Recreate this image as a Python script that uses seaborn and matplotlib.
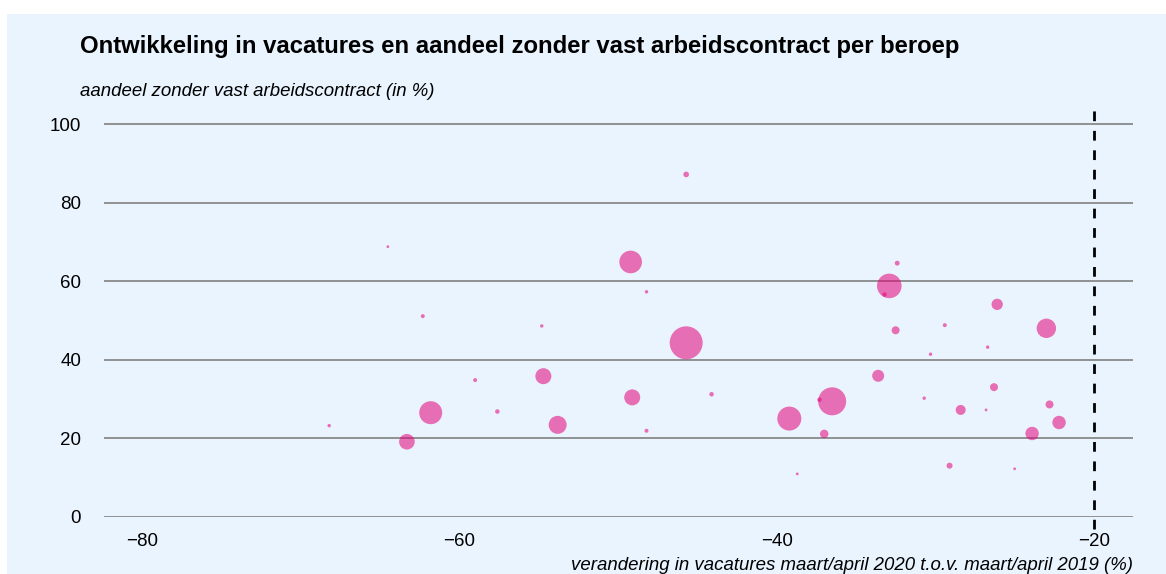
import pandas as pd
import matplotlib.pyplot as plt
import seaborn as sns
from matplotlib.patches import Rectangle

# =================== DATA ===================

# verandering in vacatures (%) per beroep
vacature_verandering = [
    -64.5, -62.3, -54.8, -59.0, -54.7, -61.8, -57.6, -53.8, -68.2, -63.3,
    -45.7, -49.2, -48.2, -45.7, -49.1, -44.1, -48.2, -39.2, -36.5, -37.3,
    -37.0, -32.4, -32.9, -33.2, -26.1, -32.5, -29.4, -23.0, -26.7, -30.3,
    -33.6, -26.3, -30.7, -22.8, -28.4, -26.8, -22.2, -23.9, -29.1, -25.0,
    -38.7,
]

# aandeel zonder vast arbeidscontract (%)
aandeel_flex = [
    68.8, 51.1, 48.6, 34.8, 35.8, 26.5, 26.8, 23.4, 23.2, 19.1,
    87.2, 64.9, 57.3, 44.3, 30.4, 31.2, 21.9, 25.0, 29.4, 29.8,
    21.1, 64.6, 58.8, 56.6, 54.1, 47.5, 48.8, 48.0, 43.2, 41.4,
    35.9, 33.0, 30.2, 28.6, 27.2, 27.2, 24.0, 21.2, 13.0, 12.2,
    10.9,
]

# omvang beroep (werkzame personen x 1000, geschat uit bolgrootte)
omvang = [
    2, 4, 3, 4, 64, 132, 5, 81, 3, 61,
    8, 128, 3, 272, 64, 5, 4, 144, 196, 5,
    18, 6, 151, 5, 32, 16, 4, 94, 3, 3,
    36, 16, 3, 16, 25, 2, 45, 45, 9, 2,
    2,
]

TITLE = 'Ontwikkeling in vacatures en aandeel zonder vast arbeidscontract per beroep'
YLABEL = 'aandeel zonder vast arbeidscontract (in %)'
XLABEL = 'verandering in vacatures maart/april 2020 t.o.v. maart/april 2019 (%)'

BG = '#EAF4FE'
PINK = '#E2007A'

# =================== PLOT ===================

df = pd.DataFrame({'x': vacature_verandering, 'y': aandeel_flex, 'omvang': omvang})

sns.set_style('white')
plt.rcParams['font.family'] = ['Liberation Sans', 'DejaVu Sans']
plt.rcParams['text.color'] = 'black'
plt.rcParams['xtick.color'] = 'black'
plt.rcParams['ytick.color'] = 'black'

fig = plt.figure(figsize=(11.66, 5.74), dpi=100, facecolor='white')
fig.patches.append(Rectangle((7 / 1166, 0), 1, 1 - 14 / 574, transform=fig.transFigure,
                             facecolor=BG, edgecolor='none', zorder=-10))
ax = fig.add_axes([104 / 1166, 1 - 516.7 / 574, (1133 - 104) / 1166, (516.7 - 108.5) / 574])
ax.set_facecolor('none')

max_s = (2 * 16.5 * 0.72) ** 2
sns.scatterplot(data=df, x='x', y='y', size='omvang', sizes=(0, max_s),
                size_norm=(0, max(omvang)), color=PINK, alpha=0.55,
                edgecolor='none', legend=False, ax=ax, zorder=3)

ax.set_xlim(-82.39, -17.54)
ax.set_ylim(0, 104)
ax.set_xticks([-80, -60, -40, -20])
ax.set_xticklabels(['\u221280', '\u221260', '\u221240', '\u221220'])
ax.set_yticks([0, 20, 40, 60, 80, 100])

for y in [0, 20, 40, 60, 80, 100]:
    ax.axhline(y, color='#808080', lw=1.2, zorder=1)
ax.axvline(-20, ymin=-0.03, ymax=1.0, color='black', lw=2, ls=(0, (3.5, 3.5)),
           zorder=4, clip_on=False)

for side in ['top', 'right', 'left', 'bottom']:
    ax.spines[side].set_visible(False)

ax.tick_params(axis='x', length=5, width=1, color='#808080', labelcolor='black',
               labelsize=13.5, pad=6.5)
ax.tick_params(axis='y', length=0, labelcolor='black', labelsize=13.5, pad=16.5)
ax.set_xlabel('')
ax.set_ylabel('')

fig.text(80 / 1166, 1 - 46 / 574, TITLE, fontsize=17.2, fontweight='bold',
         va='center', ha='left', color='black')
fig.text(80 / 1166, 1 - 91 / 574, YLABEL, fontsize=13.4, style='italic',
         va='center', ha='left', color='black')
fig.text(1133 / 1166, 1 - 565 / 574, XLABEL, fontsize=13.4, style='italic',
         va='center', ha='right', color='black')

plt.savefig('out.png', dpi=100, facecolor='white')
plt.close()
